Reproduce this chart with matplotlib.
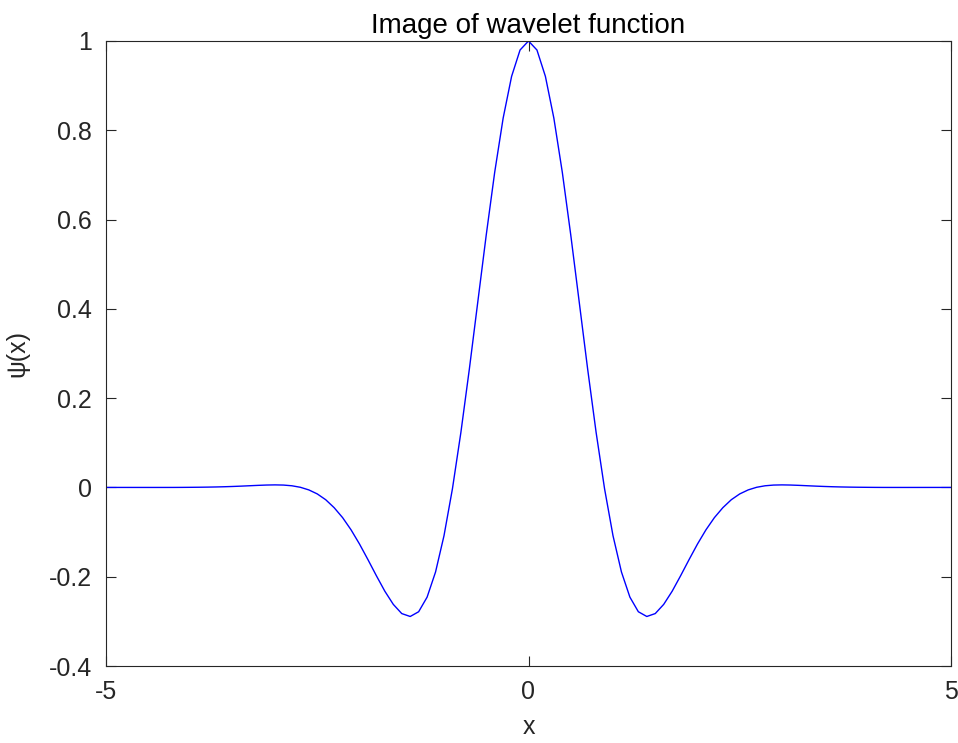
import matplotlib
matplotlib.use("Agg")
import matplotlib.pyplot as plt

plt.rcParams['font.family'] = ['Liberation Sans', 'DejaVu Sans']

x_vals = [-5.0, -4.9, -4.8, -4.7, -4.6, -4.5, -4.4, -4.3, -4.2, -4.1,
          -4.0, -3.9, -3.8, -3.7, -3.6, -3.5, -3.4, -3.3, -3.2, -3.1,
          -3.0, -2.9, -2.8, -2.7, -2.6, -2.5, -2.4, -2.3, -2.2, -2.1,
          -2.0, -1.9, -1.8, -1.7, -1.6, -1.5, -1.4, -1.3, -1.2, -1.1,
          -1.0, -0.9, -0.8, -0.7, -0.6, -0.5, -0.4, -0.3, -0.2, -0.1,
          0.0,
          0.1, 0.2, 0.3, 0.4, 0.5, 0.6, 0.7, 0.8, 0.9, 1.0,
          1.1, 1.2, 1.3, 1.4, 1.5, 1.6, 1.7, 1.8, 1.9, 2.0,
          2.1, 2.2, 2.3, 2.4, 2.5, 2.6, 2.7, 2.8, 2.9, 3.0,
          3.1, 3.2, 3.3, 3.4, 3.5, 3.6, 3.7, 3.8, 3.9, 4.0,
          4.1, 4.2, 4.3, 4.4, 4.5, 4.6, 4.7, 4.8, 4.9, 5.0]

psi_vals = [0.0, 0.0, 0.0, -0.00001, -0.00002, -0.00003, -0.00003, -0.00002, 0.0, 0.0001,
            0.00025, 0.00043, 0.00069, 0.00104, 0.00153, 0.00216, 0.00291, 0.00377, 0.00464, 0.00535,
            0.00569, 0.00529, 0.00370, 0.00033, -0.00553, -0.01451, -0.02752, -0.04536, -0.06763, -0.09496,
            -0.12674, -0.16174, -0.19789, -0.23253, -0.26198, -0.28256, -0.28908, -0.27847, -0.24574, -0.18940,
            -0.10811, -0.00280, 0.12342, 0.26513, 0.41561, 0.56568, 0.70604, 0.82726, 0.92077, 0.97982,
            1.0,
            0.97982, 0.92077, 0.82726, 0.70604, 0.56568, 0.41561, 0.26513, 0.12342, -0.00280, -0.10811,
            -0.18940, -0.24574, -0.27847, -0.28908, -0.28256, -0.26198, -0.23253, -0.19789, -0.16174, -0.12674,
            -0.09496, -0.06763, -0.04536, -0.02752, -0.01451, -0.00553, 0.00033, 0.00370, 0.00529, 0.00569,
            0.00535, 0.00464, 0.00377, 0.00291, 0.00216, 0.00153, 0.00104, 0.00069, 0.00043, 0.00025,
            0.0001, 0.0, -0.00002, -0.00003, -0.00003, -0.00002, -0.00001, 0.0, 0.0, 0.0]

x_ticks = [-5, 0, 5]
y_ticks = [-0.4, -0.2, 0, 0.2, 0.4, 0.6, 0.8, 1]
y_tick_labels = ['-0.4', '-0.2', '0', '0.2', '0.4', '0.6', '0.8', '1']

fig = plt.figure(figsize=(9.58, 7.43), dpi=100)
ax = fig.add_axes([106/958, 77/743, 845/958, 625/743])
ax.plot(x_vals, psi_vals, color='#0000FF', linewidth=1.0)
ax.set_xlim(-5, 5)
ax.set_ylim(-0.4, 1)
ax.set_xticks(x_ticks)
ax.set_xticklabels([str(t) for t in x_ticks])
ax.set_yticks(y_ticks)
ax.set_yticklabels(y_tick_labels)
ax.tick_params(direction='in', length=7, width=0.8, top=True, right=True,
               labelsize=18, colors='#262626')
ax.tick_params(axis='y', pad=10)
ax.tick_params(axis='x', pad=10)
for s in ax.spines.values():
    s.set_color('#262626')
    s.set_linewidth(0.8)
ax.set_title('Image of wavelet function', fontsize=20, pad=6)
ax.set_xlabel('x', fontsize=18, color='#262626', labelpad=8)
ax.set_ylabel('ψ(x)', fontsize=18, color='#262626', labelpad=14)
fig.savefig('out.png', dpi=100)
